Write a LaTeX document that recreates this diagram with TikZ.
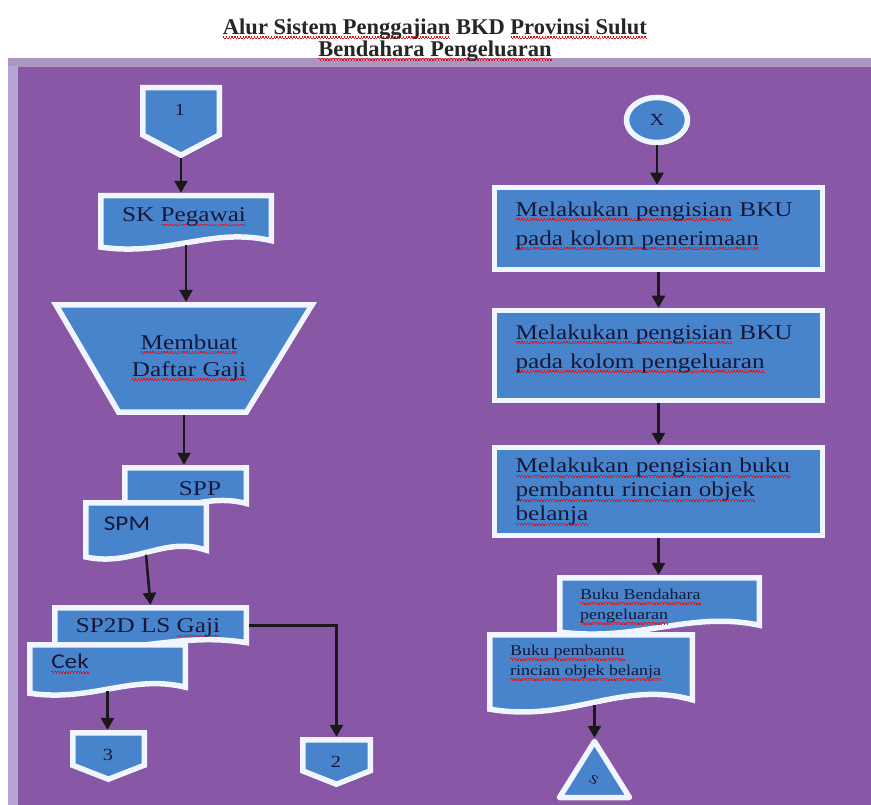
\documentclass[tikz,border=0pt]{standalone}
\usepackage{fontspec}
\setmainfont{Liberation Serif}[FakeStretch=1.2]
\newfontfamily\titlefont{Liberation Serif}[BoldFont=Liberation Serif Bold]
\newfontfamily\calfont{Carlito}[FakeStretch=1.2]
\usetikzlibrary{arrows.meta,shadows,shapes.geometric}
\definecolor{purp}{RGB}{136,88,166}
\definecolor{lav}{RGB}{182,164,212}
\definecolor{lavtop}{RGB}{170,150,192}
\definecolor{nodeblue}{RGB}{72,132,204}
\definecolor{edgewhite}{RGB}{240,245,255}
\definecolor{ink}{RGB}{22,24,58}
\definecolor{wavered}{RGB}{220,20,30}
\newcommand\rw[1]{\leavevmode\begingroup\setbox0\hbox{#1}\rlap{\color{wavered}\hbox to\wd0{\xleaders\hbox{\rule[-3.2pt]{1.4pt}{1.3pt}\rule[-4.6pt]{1.4pt}{1.3pt}}\hfill}}\box0\endgroup}
\tikzset{
  shp/.style={fill=nodeblue, draw=edgewhite, line width=5.5pt, line join=miter,
    drop shadow={shadow xshift=2pt, shadow yshift=-2.5pt, opacity=0.4, fill=black}},
  frame/.style={draw=none, inner sep=0pt, rectangle},
  txt/.style={text=ink, font=\fontsize{21}{29}\selectfont, inner sep=0pt},
  smalltxt/.style={text=ink, font=\fontsize{15}{20}\selectfont, inner sep=0pt, align=left},
  arr/.style={line width=2.6pt, draw=black!90, -{Triangle[width=13pt,length=12pt]}},
}
% document shape: name x1 y1 x2 y2 (outer bounds)
\newcommand\DocShape[5]{%
  \pgfmathsetmacro\xa{#2+2.75}\pgfmathsetmacro\ya{#3+2.75}%
  \pgfmathsetmacro\xb{#4-2.75}\pgfmathsetmacro\yb{#5-2.75}%
  \pgfmathsetmacro\ww{\xb-\xa}\pgfmathsetmacro\hh{\yb-\ya}%
  \draw[shp] (\xa,\ya) -- (\xb,\ya) -- (\xb,{\yb-0.16*\hh})
     .. controls ({\xa+0.65*\ww},{\yb-0.42*\hh}) and ({\xa+0.4*\ww},{\yb+0.14*\hh}) ..
     (\xa,{\yb-0.04*\hh}) -- cycle;
  \node[frame, minimum width={#4-#2}, minimum height={(#5-#3)*0.88}]
     (#1) at ({(#2+#4)/2},{#3+(#5-#3)*0.44}) {};%
}
% off-page connector: name x1 y1 x2 y2
\newcommand\OffShape[5]{%
  \pgfmathsetmacro\xa{#2+2.75}\pgfmathsetmacro\ya{#3+2.75}%
  \pgfmathsetmacro\xb{#4-2.75}\pgfmathsetmacro\yb{#5-2.75}%
  \pgfmathsetmacro\yr{\yb-0.3*(\yb-\ya)}%
  \draw[shp] (\xa,\ya) -- (\xb,\ya) -- (\xb,\yr) -- ({(\xa+\xb)/2},\yb) -- (\xa,\yr) -- cycle;
  \node[frame, minimum width={#4-#2}, minimum height={#5-#3}]
     (#1) at ({(#2+#4)/2},{(#3+#5)/2}) {};%
}
\begin{document}
\begin{tikzpicture}[x=1pt,y=-1pt]
\useasboundingbox (0,0) rectangle (871,805);
\fill[white] (0,0) rectangle (871,805);
% panel
\fill[lavtop] (8,58) rectangle (871,805);
\fill[lav] (8,66) rectangle (18,805);
\fill[purp] (18,67) rectangle (871,805);
% title
\node[align=center, text=black!85, font=\titlefont\bfseries\fontsize{22.5}{20}\selectfont, inner sep=0pt]
  (title) at (435,40) {\rw{Alur Sistem Penggajian} BKD \rw{Provinsi Sulut}\\ \rw{Bendahara Pengeluaran}};

% ---------- left column ----------
\OffShape{c1}{140}{85}{222}{158}
\node[txt, font=\fontsize{17}{20}\selectfont] (t1) at (180,110) {1};

\DocShape{sk}{98}{193}{274}{252}
\node[txt] (tsk) at (184,217) {SK \rw{Pegawai}};

\draw[shp] (56,305) -- (312,305) -- (246.5,412) -- (118.5,412) -- cycle;
\node[frame, minimum width=262, minimum height=113] (trap) at (184,358.5) {};
\node[txt, align=center, font=\fontsize{21}{27}\selectfont] (ttrap) at (189,358) {\rw{Membuat}\\ \rw{Daftar Gaji}};

\DocShape{spp}{122}{465}{249}{513}
\node[txt] (tspp) at (200,489) {SPP};
\DocShape{spm}{83}{500}{209}{562}
\node[txt, font=\calfont\fontsize{21}{25}\selectfont] (tspm) at (127,524) {SPM};

\DocShape{sp2d}{52}{605}{249}{652}
\node[txt] (tsp2d) at (148,628) {SP2D LS \rw{Gaji}};
\DocShape{cek}{27}{642}{188}{698}
\node[txt, font=\calfont\fontsize{21}{25}\selectfont] (tcek) at (70,664) {\rw{Cek}};

\OffShape{c3}{70}{730}{147}{782}
\node[txt, font=\fontsize{17}{20}\selectfont] (t3) at (108,755) {3};
\OffShape{c2}{300}{737}{373}{787}
\node[txt, font=\fontsize{17}{20}\selectfont] (t2) at (336,762) {2};

% ---------- right column ----------
\node[shp, ellipse, minimum width=61, minimum height=45, inner sep=0pt, text=ink,
  font=\fontsize{17}{20}\selectfont] (x) at (657,120) {X};

\node[shp, minimum width=328, minimum height=82, inner sep=0pt] (b1) at (658.5,228.5) {};
\node[txt, align=left, text width=286] (tb1) at (658.5,226) {\rw{Melakukan pengisian} BKU\\ \rw{pada kolom penerimaan}};

\node[shp, minimum width=328, minimum height=90, inner sep=0pt] (b2) at (658.5,355.5) {};
\node[txt, align=left, text width=286] (tb2) at (658.5,349) {\rw{Melakukan pengisian} BKU\\ \rw{pada kolom pengeluaran}};

\node[shp, minimum width=328, minimum height=88, inner sep=0pt] (b3) at (658.5,491.5) {};
\node[txt, align=left, text width=286, font=\fontsize{21}{24}\selectfont] (tb3) at (658.5,492) {\rw{Melakukan pengisian buku}\\ \rw{pembantu rincian objek}\\ \rw{belanja}};

\DocShape{bb}{557}{575}{762}{637}
\node[smalltxt, anchor=west] (tbb) at (580,607) {\rw{Buku Bendahara}\\ \rw{pengeluaran}};
\DocShape{bp}{487}{632}{695}{715}
\node[smalltxt, anchor=west] (tbp) at (510,663) {\rw{Buku pembantu}\\ \rw{rincian objek belanja}};

\draw[shp, line join=round] (559.5,797.5) -- (629.5,797.5) -- (594.5,741.5) -- cycle;
\node[frame, minimum width=75, minimum height=62] (tri) at (594.5,769) {};
\node[txt, font=\fontsize{13}{15}\selectfont, rotate=-30] (ts) at (594,780) {S};

% ---------- connectors ----------
\draw[arr] (c1.south) -- (c1.south |- sk.north);
\draw[arr] (sk.south) -- (sk.south |- trap.north);
\draw[arr] (trap.south) -- (trap.south |- spp.north);
\draw[arr] (spm.south) -- (sp2d.north);
\draw[arr] (sp2d.east) -| (c2.north);
\draw[arr] (cek.south) -- (cek.south |- c3.north);

\draw[arr] (x.south) -- (x.south |- b1.north);
\draw[arr] (b1.south) -- (b1.south |- b2.north);
\draw[arr] (b2.south) -- (b2.south |- b3.north);
\draw[arr] (b3.south) -- (b3.south |- bb.north);
\draw[arr] (bp.south -| tri.north) -- (tri.north);
\end{tikzpicture}
\end{document}
